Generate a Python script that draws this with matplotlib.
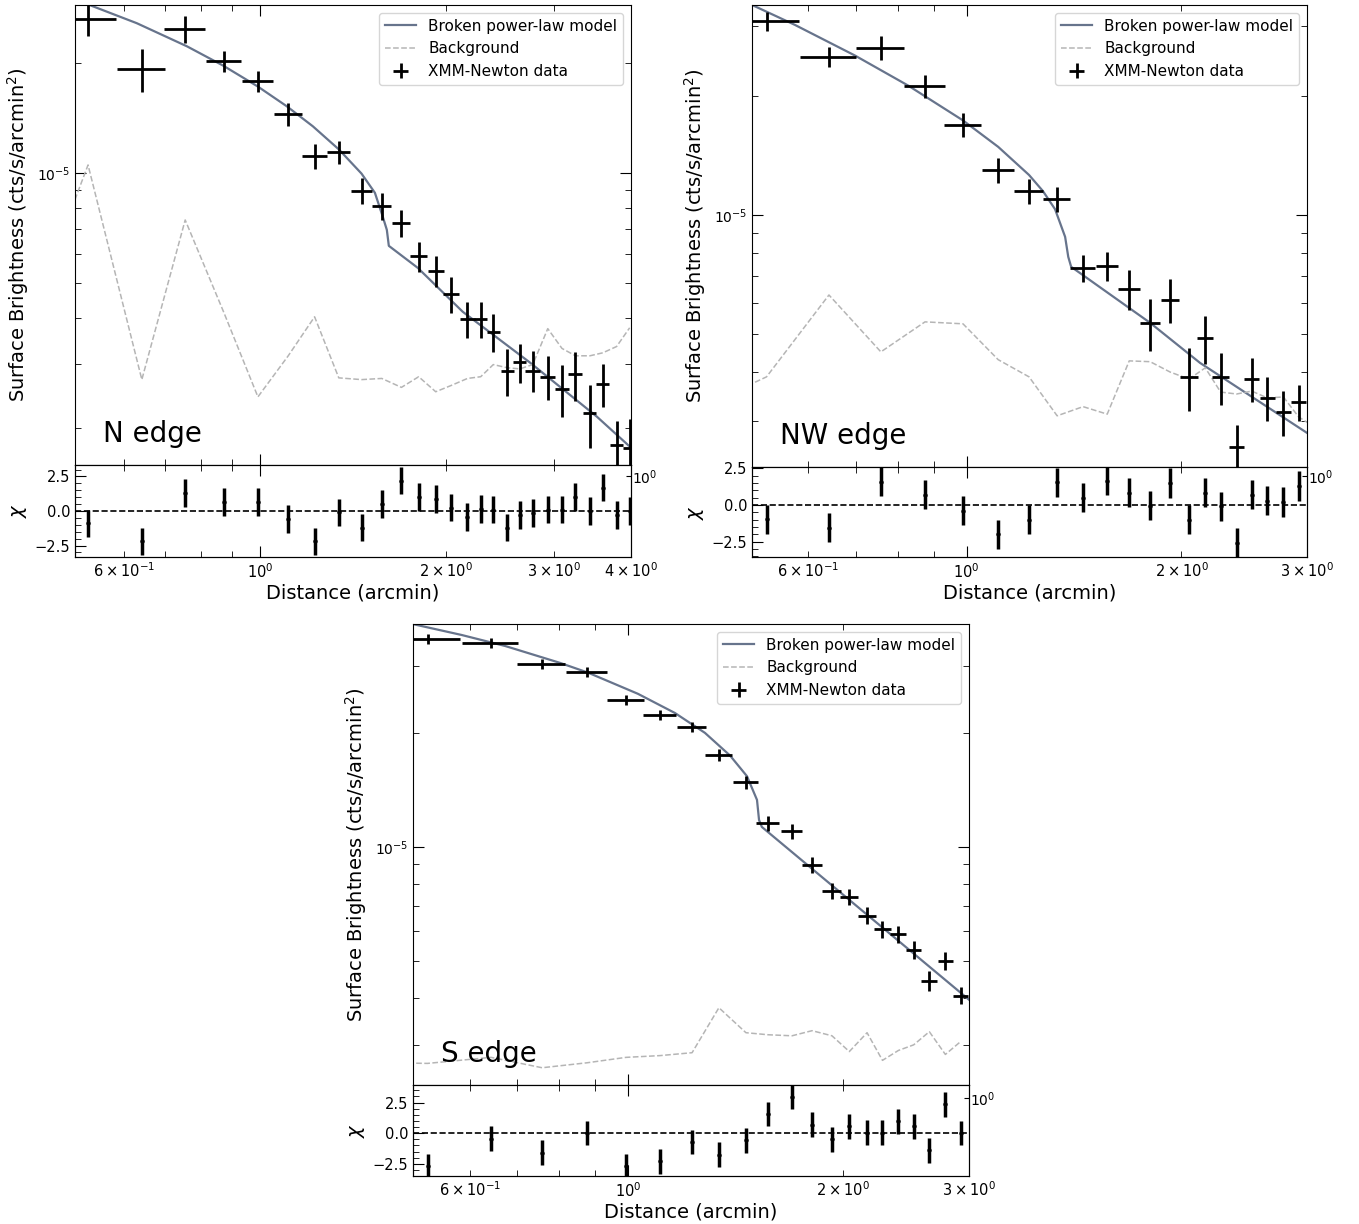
import matplotlib.pyplot as plt
import numpy as np
from matplotlib.ticker import AutoMinorLocator, NullFormatter, NullLocator, FixedLocator

# surface brightness values are in units of 1e-5 cts/s/arcmin^2

# ---- N edge ----
n_r = [0.525, 0.642, 0.755, 0.873, 0.991, 1.11, 1.225, 1.341, 1.46, 1.575, 1.695, 1.808, 1.927,
       2.04, 2.17, 2.28, 2.39, 2.52, 2.64, 2.77, 2.93, 3.09, 3.25, 3.43, 3.60, 3.79, 3.98]
n_rerr = [0.058, 0.058, 0.058, 0.058, 0.058, 0.058, 0.058, 0.058, 0.058, 0.058, 0.058, 0.058, 0.058,
          0.06, 0.06, 0.055, 0.06, 0.06, 0.065, 0.075, 0.08, 0.08, 0.085, 0.085, 0.09, 0.095, 0.1]
n_sb = [2.642, 1.927, 2.480, 2.027, 1.787, 1.451, 1.113, 1.142, 0.893, 0.812, 0.730, 0.592, 0.539,
        0.466, 0.398, 0.398, 0.367, 0.287, 0.303, 0.287, 0.276, 0.256, 0.280, 0.219, 0.264, 0.179, 0.176]
n_err = [0.271, 0.26, 0.21, 0.134, 0.118, 0.109, 0.088, 0.083, 0.073, 0.07, 0.062, 0.056, 0.054,
         0.052, 0.045, 0.045, 0.044, 0.042, 0.037, 0.037, 0.038, 0.042, 0.043, 0.043, 0.036, 0.03, 0.035]
n_chi = [-0.9, -2.2, 1.3, 0.65, 0.65, -0.6, -2.2, -0.1, -1.2, 0.5, 2.2, 1.0, 0.85,
         0.25, -0.45, 0.15, 0.1, -1.2, -0.3, -0.15, 0.1, 0.1, 1.0, 0.0, 1.7, -0.3, 0.0]
n_model_r = [0.5, 0.529, 0.630, 0.760, 0.870, 0.991, 1.104, 1.217, 1.341, 1.460, 1.535, 1.581,
             1.605, 1.617, 1.802, 2.132, 2.74, 3.52, 3.98, 4.0]
n_model_sb = [2.99, 2.886, 2.576, 2.226, 1.971, 1.726, 1.524, 1.343, 1.161, 0.996, 0.882, 0.758,
              0.698, 0.631, 0.549, 0.416, 0.302, 0.2145, 0.1776, 0.1764]
n_bg_r = [0.408, 0.525, 0.642, 0.755, 0.873, 0.991, 1.11, 1.225, 1.341, 1.46, 1.575, 1.695, 1.808, 1.927,
          2.04, 2.17, 2.28, 2.39, 2.52, 2.64, 2.77, 2.93, 3.09, 3.25, 3.43, 3.60, 3.79, 3.98]
n_bg = [0.34, 1.052, 0.271, 0.743, 0.413, 0.243, 0.315, 0.403, 0.274, 0.271, 0.273, 0.258, 0.276, 0.251,
        0.261, 0.273, 0.276, 0.298, 0.292, 0.290, 0.298, 0.374, 0.330, 0.315, 0.315, 0.321, 0.334, 0.376]

# ---- NW edge ----
nw_r = [0.524, 0.641, 0.758, 0.874, 0.988, 1.107, 1.223, 1.339, 1.456, 1.574, 1.690, 1.808, 1.929,
        2.05, 2.16, 2.27, 2.39, 2.51, 2.64, 2.78, 2.92]
nw_rerr = [0.058, 0.058, 0.058, 0.058, 0.058, 0.058, 0.058, 0.058, 0.058, 0.058, 0.058, 0.058, 0.058,
           0.058, 0.058, 0.06, 0.06, 0.062, 0.065, 0.068, 0.072]
nw_sb = [3.098, 2.512, 2.648, 2.121, 1.690, 1.300, 1.150, 1.098, 0.734, 0.743, 0.650, 0.533, 0.609,
         0.389, 0.488, 0.389, 0.259, 0.384, 0.344, 0.317, 0.336]
nw_err = [0.172, 0.146, 0.185, 0.142, 0.118, 0.095, 0.084, 0.08, 0.058, 0.061, 0.074, 0.081, 0.078,
          0.071, 0.068, 0.058, 0.034, 0.049, 0.044, 0.042, 0.035]
nw_chi = [-0.98, -1.55, 1.6, 0.7, -0.4, -2.0, -1.0, 1.55, 0.5, 1.65, 0.85, -0.05, 1.5,
          -1.0, 0.85, -0.1, -2.6, 0.7, 0.3, 0.2, 1.3]
nw_model_r = [0.5, 0.574, 0.697, 0.828, 0.988, 1.107, 1.223, 1.279, 1.330, 1.374, 1.388, 1.401,
              1.808, 2.124, 3.0]
nw_model_sb = [3.401, 3.029, 2.533, 2.125, 1.735, 1.487, 1.262, 1.149, 1.034, 0.880, 0.783, 0.739,
               0.533, 0.422, 0.2806]
nw_bg_r = [0.408, 0.524, 0.641, 0.758, 0.874, 0.988, 1.107, 1.223, 1.339, 1.456, 1.574, 1.690, 1.808,
           1.929, 2.05, 2.16, 2.27, 2.39, 2.51, 2.64, 2.78, 2.92, 3.04]
nw_bg = [0.315, 0.389, 0.627, 0.450, 0.536, 0.530, 0.430, 0.389, 0.310, 0.327, 0.313, 0.427, 0.425,
         0.400, 0.384, 0.410, 0.356, 0.352, 0.358, 0.344, 0.346, 0.308, 0.294]

# ---- S edge ----
s_r = [0.524, 0.643, 0.758, 0.876, 0.993, 1.108, 1.229, 1.340, 1.462, 1.570, 1.696, 1.809, 1.929,
       2.04, 2.16, 2.27, 2.39, 2.51, 2.64, 2.78, 2.92]
s_rerr = [0.058, 0.058, 0.058, 0.058, 0.058, 0.058, 0.058, 0.058, 0.058, 0.058, 0.058, 0.058, 0.058,
          0.058, 0.06, 0.06, 0.062, 0.063, 0.066, 0.069, 0.072]
s_sb = [3.539, 3.454, 3.039, 2.895, 2.443, 2.230, 2.073, 1.748, 1.484, 1.157, 1.102, 0.896, 0.765,
        0.738, 0.658, 0.607, 0.589, 0.535, 0.443, 0.500, 0.405]
s_err = [0.106, 0.104, 0.091, 0.087, 0.078, 0.067, 0.062, 0.061, 0.059, 0.053, 0.050, 0.045, 0.038,
         0.037, 0.034, 0.032, 0.031, 0.029, 0.026, 0.028, 0.021]
s_chi = [-2.67, -0.45, -1.6, 0.0, -2.7, -2.3, -0.72, -1.75, -0.6, 1.58, 2.97, 0.7, -0.5,
         0.55, 0.05, 0.05, 0.95, 0.55, -1.4, 2.35, 0.0]
s_model_r = [0.5, 0.585, 0.673, 0.803, 0.879, 1.032, 1.163, 1.281, 1.389, 1.467, 1.515, 1.525, 1.539, 3.0]
s_model_sb = [3.877, 3.629, 3.394, 3.063, 2.886, 2.538, 2.258, 2.001, 1.743, 1.537, 1.331, 1.178,
              1.129, 0.3948]
s_bg_r = [0.41, 0.524, 0.643, 0.758, 0.876, 0.993, 1.108, 1.229, 1.340, 1.462, 1.570, 1.696, 1.809,
          1.929, 2.04, 2.16, 2.27, 2.39, 2.51, 2.64, 2.78, 2.92]
s_bg = [0.270, 0.268, 0.278, 0.261, 0.269, 0.278, 0.281, 0.286, 0.376, 0.323, 0.319, 0.317, 0.327,
        0.317, 0.288, 0.323, 0.273, 0.290, 0.300, 0.325, 0.283, 0.306]

MODEL_COLOR = '#67748c'
BG_COLOR = '#b5b5b5'
W, H = 1359, 1224


def rect(left, right, top, bottom):
    # pixel box -> figure fraction
    return [left / W, 1 - bottom / H, (right - left) / W, (bottom - top) / H]


def draw_edge(fig, box_main, box_res, r, r_err, sb, sb_err, chi, model_r, model_sb,
              bg_r, bg_sb, xlim, ylim, chi_lim, twin_frac, name):
    ax = fig.add_axes(box_main)
    res = fig.add_axes(box_res, sharex=ax)

    ax.plot(model_r, np.array(model_sb) * 1e-5, color=MODEL_COLOR, lw=1.6,
            label='Broken power-law model')
    ax.plot(bg_r, np.array(bg_sb) * 1e-5, color=BG_COLOR, ls='--', lw=1.1, label='Background')
    ax.errorbar(r, np.array(sb) * 1e-5, xerr=r_err, yerr=np.array(sb_err) * 1e-5, fmt='none',
                ecolor='black', elinewidth=2, label='XMM-Newton data')
    ax.set_xscale('log')
    ax.set_yscale('log')
    ax.set_xlim(*xlim)
    ax.set_ylim(*ylim)
    ax.yaxis.set_minor_formatter(NullFormatter())
    ax.tick_params(which='both', direction='in', top=True, right=True, labelbottom=False,
                   labelsize=10)
    ax.tick_params(which='major', length=8)
    ax.tick_params(which='minor', length=4)
    ax.set_ylabel('Surface Brightness (cts/s/arcmin$^2$)', fontsize=14)
    ax.legend(loc='upper right', fontsize=11)
    ax.text(0.05, 0.05, name, transform=ax.transAxes, fontsize=20)

    res.errorbar(r, chi, yerr=1, fmt='o', color='black', ms=2.2, elinewidth=2.5)
    res.axhline(0, color='black', ls='--', lw=1.2)
    res.set_ylim(*chi_lim)
    res.set_yticks([-2.5, 0.0, 2.5])
    res.yaxis.set_minor_locator(AutoMinorLocator(5))
    res.tick_params(which='both', direction='in', top=True, right=True, labelsize=10.5)
    res.tick_params(which='major', length=8)
    res.tick_params(which='minor', length=4)
    res.set_ylabel(r'$\chi$', fontsize=14)
    res.set_xlabel('Distance (arcmin)', fontsize=14, labelpad=2)

    tw = res.twinx()
    tw.set_yscale('log')
    tw.set_ylim(10 ** (-twin_frac), 10 ** (1 - twin_frac))
    tw.yaxis.set_major_locator(FixedLocator([1.0]))
    tw.yaxis.set_minor_locator(NullLocator())
    tw.tick_params(direction='in', labelsize=10, pad=1)


fig = plt.figure(figsize=(W / 100, H / 100), dpi=100)

draw_edge(fig, rect(75, 631, 5, 465), rect(75, 631, 465, 557),
          n_r, n_rerr, n_sb, n_err, n_chi, n_model_r, n_model_sb, n_bg_r, n_bg,
          (0.5, 4.0), (1.58e-6, 2.89e-5), (-3.33, 3.33), 0.88, 'N edge')
draw_edge(fig, rect(752, 1307, 5, 467), rect(752, 1307, 467, 557),
          nw_r, nw_rerr, nw_sb, nw_err, nw_chi, nw_model_r, nw_model_sb, nw_bg_r, nw_bg,
          (0.5, 3.0), (2.3e-6, 3.4e-5), (-3.56, 2.6), 0.9, 'NW edge')
draw_edge(fig, rect(413, 969, 624, 1085), rect(413, 969, 1085, 1176),
          s_r, s_rerr, s_sb, s_err, s_chi, s_model_r, s_model_sb, s_bg_r, s_bg,
          (0.5, 3.0), (2.35e-6, 3.88e-5), (-3.5, 3.93), 0.857, 'S edge')

fig.savefig('out.png', dpi=100)
